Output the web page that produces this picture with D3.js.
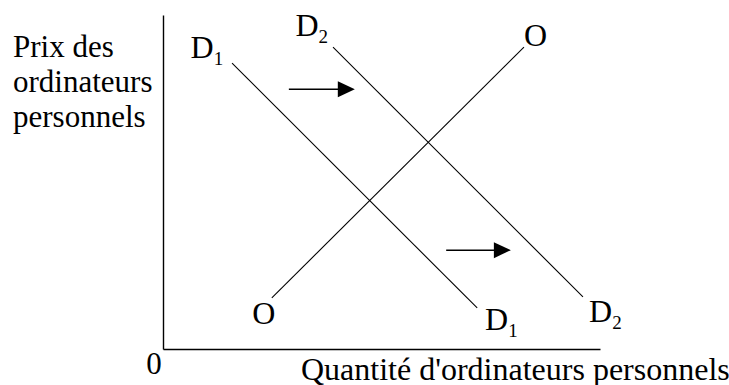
<!DOCTYPE html>
<html>
<head>
<meta charset="utf-8">
<script src="https://cdn.jsdelivr.net/npm/d3@7"></script>
<style>
  html, body { margin: 0; padding: 0; background: #fff; }
  svg { display: block; }
  text { font-family: "Liberation Serif", "Times New Roman", serif; fill: #000; }
</style>
</head>
<body>
<svg id="chart" width="729" height="385"></svg>
<script>
// ---- Data (abstract units: quantity 0..10, price 0..10) ----
const demandD1 = [{q: 1.58, p: 8.56}, {q: 7.19, p: 1.23}];
const demandD2 = [{q: 3.89, p: 9.04}, {q: 9.61, p: 1.56}];
const supplyO  = [{q: 2.49, p: 1.53}, {q: 8.26, p: 9.04}];
const shiftArrows = [
  {q0: 2.88, q1: 4.39, p: 7.78},
  {q0: 6.48, q1: 7.96, p: 2.96}
];
const curveLabels = [
  {text: "D", sub: "1", q: 0.63, p: 8.71},
  {text: "D", sub: "2", q: 3.03, p: 9.37},
  {text: "O", sub: "",  q: 8.26, p: 9.07},
  {text: "O", sub: "",  q: 2.04, p: 0.75},
  {text: "D", sub: "1", q: 7.37, p: 0.57},
  {text: "D", sub: "2", q: 9.75, p: 0.81}
];
const yAxisTitle = ["Prix des", "ordinateurs", "personnels"];
const xAxisTitle = "Quantité d'ordinateurs personnels";
const originLabel = "0";

// ---- Layout ----
const svg = d3.select("#chart");
const x = d3.scaleLinear().domain([0, 10]).range([163, 600]);
const y = d3.scaleLinear().domain([0, 10]).range([349, 15]);

// Axes (no ticks)
svg.append("g")
  .attr("transform", `translate(0,${y(0)})`)
  .call(d3.axisBottom(x).tickValues([]).tickSizeOuter(0))
  .call(g => g.select(".domain").attr("stroke", "#000").attr("stroke-width", 1.4));
svg.append("g")
  .attr("transform", `translate(${x(0)},0)`)
  .call(d3.axisLeft(y).tickValues([]).tickSizeOuter(0))
  .call(g => g.select(".domain").attr("stroke", "#000").attr("stroke-width", 1.4));

// Curves
const line = d3.line().x(d => x(d.q)).y(d => y(d.p));
[demandD1, demandD2, supplyO].forEach(c => {
  svg.append("path")
    .attr("d", line(c))
    .attr("fill", "none")
    .attr("stroke", "#000")
    .attr("stroke-width", 1.1);
});

// Shift arrows
const headLen = 17, headHalf = 8;
shiftArrows.forEach(a => {
  const x0 = x(a.q0), x1 = x(a.q1), yy = y(a.p);
  svg.append("line")
    .attr("x1", x0).attr("x2", x1 - headLen + 1)
    .attr("y1", yy).attr("y2", yy)
    .attr("stroke", "#000").attr("stroke-width", 1.5);
  svg.append("path")
    .attr("d", `M${x1},${yy} L${x1 - headLen},${yy - headHalf} L${x1 - headLen},${yy + headHalf} Z`)
    .attr("fill", "#000");
});

// Curve labels
curveLabels.forEach(l => {
  const t = svg.append("text")
    .attr("x", x(l.q)).attr("y", y(l.p))
    .attr("font-size", 32);
  t.append("tspan").text(l.text);
  if (l.sub) {
    t.append("tspan").attr("dy", 7).attr("font-size", 19).text(l.sub);
  }
});

// Axis titles
const yt = svg.append("text").attr("font-size", 31);
yAxisTitle.forEach((s, i) => {
  yt.append("tspan").attr("x", 13).attr("y", 57 + i * 35).text(s);
});
svg.append("text")
  .attr("x", 301).attr("y", 380)
  .attr("font-size", 32)
  .text(xAxisTitle);
svg.append("text")
  .attr("x", x(0) - 9).attr("y", 374)
  .attr("text-anchor", "middle")
  .attr("font-size", 31)
  .text(originLabel);
</script>
</body>
</html>
